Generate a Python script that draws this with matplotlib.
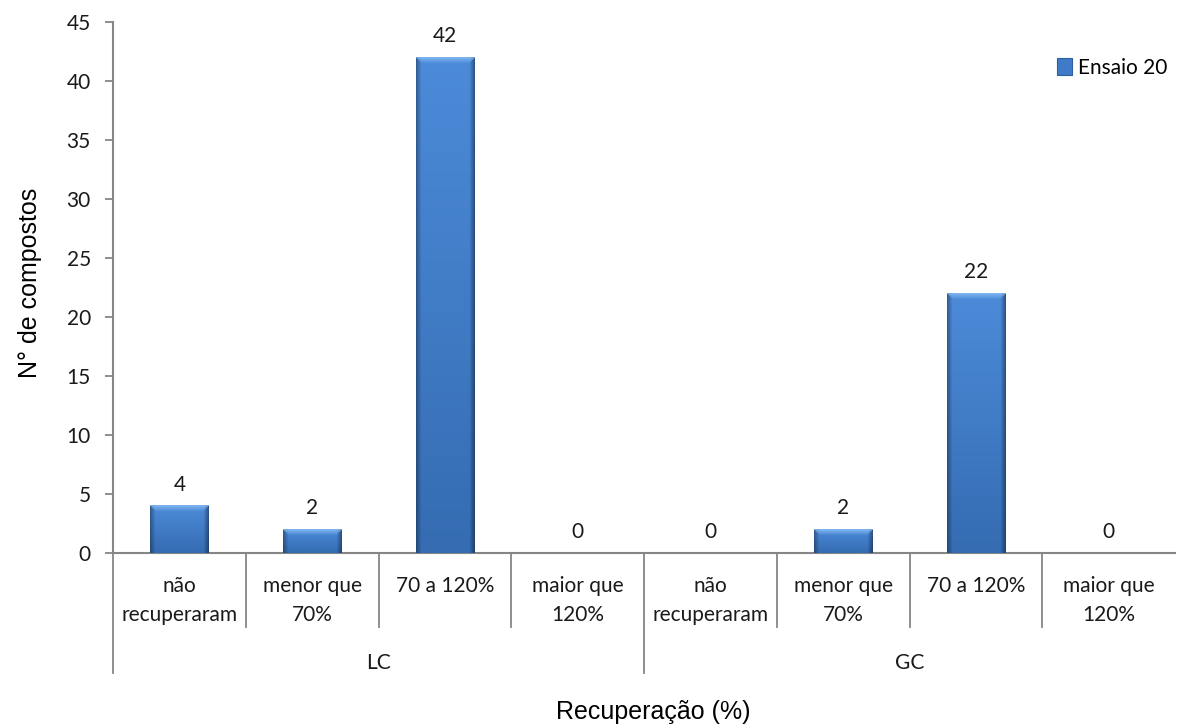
import numpy as np
import matplotlib
matplotlib.use("Agg")
import matplotlib.pyplot as plt
from matplotlib.patches import Patch
from matplotlib.transforms import blended_transform_factory

# dados do ensaio
grupos = ["LC", "GC"]
faixas = ["não\nrecuperaram", "menor que\n70%", "70 a 120%", "maior que\n120%"]
valores = [4, 2, 42, 0, 0, 2, 22, 0]
serie = "Ensaio 20"
yticks = [0, 5, 10, 15, 20, 25, 30, 35, 40, 45]

W, H = 1185, 727
cinza = "#868686"
azul = "#3F7BC8"
fonte_tick = ["Lato", "DejaVu Sans"]
fonte_titulo = ["Liberation Sans", "DejaVu Sans"]
tam = 15


def gradiente_barra(ax, x0, x1, h):
    # imagem com sombreado lateral, topo claro e base mais escura
    p0 = ax.transData.transform((x0, 0))
    p1 = ax.transData.transform((x1, h))
    wpx = max(int(round(p1[0] - p0[0])), 2)
    hpx = max(int(round(p1[1] - p0[1])), 2)
    topo = np.array([0x4C, 0x8B, 0xD9]) / 255
    base = np.array([0x35, 0x6C, 0xB2]) / 255
    t = np.linspace(0, 1, hpx)[:, None, None]
    img = topo * (1 - t) + base * t
    img = np.repeat(img, wpx, axis=1)
    xs = np.arange(wpx)
    lat = np.ones(wpx)
    borda = 5.0
    lat = np.minimum(lat, 0.68 + 0.32 * np.clip(xs / borda, 0, 1))
    lat = np.minimum(lat, 0.62 + 0.38 * np.clip((wpx - 1 - xs) / borda, 0, 1))
    img = img * lat[None, :, None]
    # chanfro claro no topo
    bev = 6
    for r in range(min(bev, hpx)):
        a = 0.6 * (1 - r / bev)
        img[r, r:wpx - r] = img[r, r:wpx - r] * (1 - a) + np.array([0.62, 0.82, 1.0]) * a
    ax.imshow(img, extent=(x0, x1, 0, h), aspect="auto", zorder=3,
              interpolation="bilinear", origin="upper")


fig = plt.figure(figsize=(W / 100, H / 100), dpi=100)
ax = fig.add_axes([113 / W, 1 - 553 / H, (1175 - 113) / W, (553 - 22) / H])

x = np.arange(len(valores))
largura = 0.44
ax.set_xlim(-0.5, len(valores) - 0.5)
ax.set_ylim(0, 45)
barras = ax.bar(x, valores, width=largura, color=azul, zorder=2)
for b, v in zip(barras, valores):
    if v > 0:
        gradiente_barra(ax, b.get_x(), b.get_x() + b.get_width(), v)
ax.set_xlim(-0.5, len(valores) - 0.5)
ax.set_ylim(0, 45)

# rótulos de valor
for xi, v in zip(x, valores):
    ax.annotate(str(v), (xi, v), xytext=(0, 8), textcoords="offset points",
                ha="center", va="bottom", fontsize=tam, family=fonte_tick,
                color="#1a1a1a")

# eixos
for s in ["top", "right"]:
    ax.spines[s].set_visible(False)
for s in ["left", "bottom"]:
    ax.spines[s].set_color(cinza)
    ax.spines[s].set_linewidth(1.5)
ax.set_yticks(yticks)
ax.tick_params(axis="y", direction="out", length=6, width=1.3, color=cinza,
               pad=10, labelsize=tam)
for lb in ax.get_yticklabels():
    lb.set_family(fonte_tick)
    lb.set_color("#1a1a1a")
ax.set_xticks([])

# eixo de categorias em dois níveis
tr = blended_transform_factory(ax.transData, ax.transAxes)
alt = 531.0
for i, f in enumerate(faixas * len(grupos)):
    ax.text(i, -23 / alt, f, transform=tr, ha="center", va="top",
            fontsize=tam, family=fonte_tick, linespacing=1.55, color="#1a1a1a")
for g, nome in enumerate(grupos):
    centro = g * len(faixas) + (len(faixas) - 1) / 2
    ax.text(centro, -110 / alt, nome, transform=tr, ha="center", va="center",
            fontsize=tam, family=fonte_tick, color="#1a1a1a")
for k in range(1, len(valores)):
    if k % len(faixas) == 0:
        continue
    ax.plot([k - 0.5, k - 0.5], [0, -74 / alt], transform=tr, color=cinza,
            lw=1.3, clip_on=False)
for g in range(len(grupos)):
    xg = g * len(faixas) - 0.5
    ax.plot([xg, xg], [0, -120 / alt], transform=tr, color=cinza,
            lw=1.3, clip_on=False)

# títulos dos eixos
fig.text(30 / W, 1 - 283 / H, "N° de compostos", rotation=90, ha="center",
         va="center", fontsize=18, family=fonte_titulo)
fig.text(653 / W, 1 - 712 / H, "Recuperação (%)", ha="center", va="center",
         fontsize=18, family=fonte_titulo)

# legenda
ax.legend(handles=[Patch(facecolor=azul, edgecolor="#2F5F9E", linewidth=0.8)],
          labels=[serie], loc="center left", frameon=False,
          bbox_to_anchor=(1057 / W, 1 - 68 / H), bbox_transform=fig.transFigure,
          handlelength=0.7, handleheight=0.9, handletextpad=0.3,
          borderpad=0, borderaxespad=0, prop={"family": fonte_tick, "size": tam})

fig.savefig("out.png", dpi=100)
